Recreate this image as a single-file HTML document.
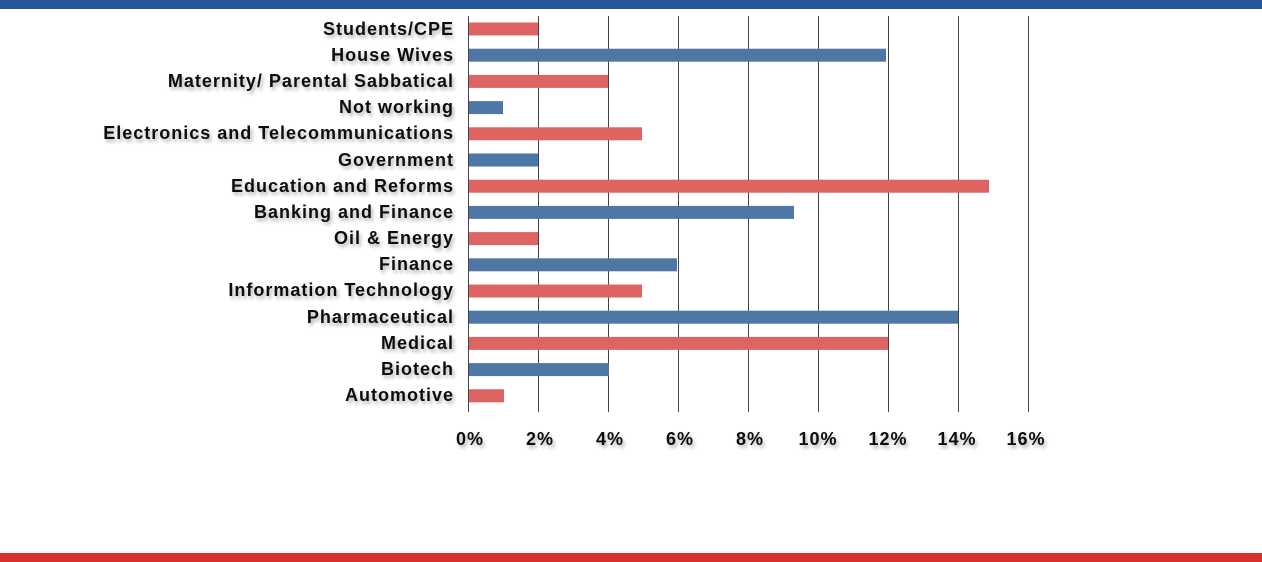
<!DOCTYPE html>
<html><head><meta charset="utf-8"><style>
html,body{margin:0;padding:0;background:#fff;}
svg{display:block;}
text{font-family:"Liberation Sans",sans-serif;font-weight:bold;font-size:18px;letter-spacing:1px;fill:#111;}
</style></head><body>
<svg width="1262" height="562" viewBox="0 0 1262 562" xmlns="http://www.w3.org/2000/svg">
<defs><filter id="sh" x="-10%" y="-30%" width="130%" height="180%"><feGaussianBlur in="SourceAlpha" stdDeviation="1.8"/><feOffset dx="2" dy="3" result="b"/><feComponentTransfer><feFuncA type="linear" slope="0.3"/></feComponentTransfer><feMerge><feMergeNode/><feMergeNode in="SourceGraphic"/></feMerge></filter></defs>
<rect x="0" y="0" width="1262" height="9" fill="#255a9a"/>
<rect x="0" y="553" width="1262" height="9" fill="#d9302c"/>
<g stroke="#444" stroke-width="1">
<line x1="468.5" y1="16" x2="468.5" y2="412"/><line x1="538.5" y1="16" x2="538.5" y2="412"/><line x1="608.5" y1="16" x2="608.5" y2="412"/><line x1="678.5" y1="16" x2="678.5" y2="412"/><line x1="748.5" y1="16" x2="748.5" y2="412"/><line x1="818.5" y1="16" x2="818.5" y2="412"/><line x1="888.5" y1="16" x2="888.5" y2="412"/><line x1="958.5" y1="16" x2="958.5" y2="412"/><line x1="1028.5" y1="16" x2="1028.5" y2="412"/>
</g>
<g>
<rect x="469" y="22.5" width="69" height="13" fill="#de6464"/>
<rect x="469" y="48.7" width="417" height="13" fill="#4e77a5"/>
<rect x="469" y="74.9" width="139" height="13" fill="#de6464"/>
<rect x="469" y="101.1" width="34" height="13" fill="#4e77a5"/>
<rect x="469" y="127.3" width="173" height="13" fill="#de6464"/>
<rect x="469" y="153.5" width="69" height="13" fill="#4e77a5"/>
<rect x="469" y="179.7" width="520" height="13" fill="#de6464"/>
<rect x="469" y="205.9" width="325" height="13" fill="#4e77a5"/>
<rect x="469" y="232.1" width="69" height="13" fill="#de6464"/>
<rect x="469" y="258.3" width="208" height="13" fill="#4e77a5"/>
<rect x="469" y="284.5" width="173" height="13" fill="#de6464"/>
<rect x="469" y="310.7" width="489" height="13" fill="#4e77a5"/>
<rect x="469" y="336.9" width="419" height="13" fill="#de6464"/>
<rect x="469" y="363.1" width="140" height="13" fill="#4e77a5"/>
<rect x="469" y="389.3" width="35" height="13" fill="#de6464"/>
</g>
<g text-anchor="end" filter="url(#sh)">
<text x="454" y="35">Students/CPE</text>
<text x="454" y="61">House Wives</text>
<text x="454" y="87">Maternity/ Parental Sabbatical</text>
<text x="454" y="113">Not working</text>
<text x="454" y="139">Electronics and Telecommunications</text>
<text x="454" y="166">Government</text>
<text x="454" y="192">Education and Reforms</text>
<text x="454" y="218">Banking and Finance</text>
<text x="454" y="244">Oil &amp; Energy</text>
<text x="454" y="270">Finance</text>
<text x="454" y="296">Information Technology</text>
<text x="454" y="323">Pharmaceutical</text>
<text x="454" y="349">Medical</text>
<text x="454" y="375">Biotech</text>
<text x="454" y="401">Automotive</text>
</g>
<g text-anchor="middle" filter="url(#sh)" style="font-size:21px">
<text x="470" y="445">0%</text><text x="540" y="445">2%</text><text x="610" y="445">4%</text><text x="680" y="445">6%</text><text x="750" y="445">8%</text><text x="818" y="445">10%</text><text x="888" y="445">12%</text><text x="957" y="445">14%</text><text x="1026" y="445">16%</text>
</g>
</svg>
</body></html>
